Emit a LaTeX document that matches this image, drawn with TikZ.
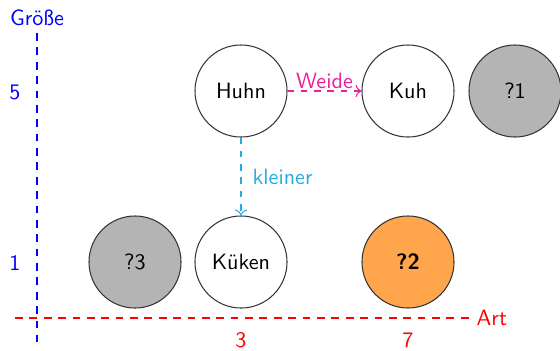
\documentclass[tikz,border=0pt]{standalone}
\usetikzlibrary{arrows.meta}
\definecolor{pinkw}{RGB}{236,30,150}
\definecolor{cyank}{RGB}{40,170,226}
\definecolor{orangeq}{RGB}{255,165,75}
\definecolor{grayq}{RGB}{180,180,180}
\begin{document}
\begin{tikzpicture}[x=0.452pt,y=-0.452pt,font=\sffamily,line width=0.47pt,
  animal/.style={circle,draw=black!80,minimum size=41.6pt,inner sep=0pt},
  unknown/.style={animal,fill=grayq},
  axislabel/.style={inner sep=1pt},
  axisline/.style={dash pattern=on 3.5pt off 3pt}]
\useasboundingbox (0,0) rectangle (560,350);
% axes
\coordinate (vtop) at (37,33);
\coordinate (vbot) at (37,342);
\coordinate (hleft) at (15,318);
\coordinate (hright) at (470,318);
\draw[blue,axisline] (vtop) -- (vbot);
\draw[red,axisline] (hleft) -- (hright);
\node[blue,axislabel] (groesse) at (37,18) {Größe};
\node[red,axislabel,anchor=west] (art) at (474,318) {Art};
\node[blue,axislabel] (y5) at (15,92) {5};
\node[blue,axislabel] (y1) at (15,263) {1};
\node[red,axislabel] (x3) at (241,340) {3};
\node[red,axislabel] (x7) at (408,340) {7};
% nodes
\node[animal] (huhn) at (241,91) {Huhn};
\node[animal] (kuh) at (408,91) {Kuh};
\node[unknown] (q1) at (515,91) {?1};
\node[unknown] (q3) at (135,262) {?3};
\node[animal] (kueken) at (241,262) {Küken};
\node[animal,fill=orangeq] (q2) at (408,262) {\bfseries ?2};
% connectors
\draw[pinkw,dashed,->] (huhn) -- node[above,inner sep=2pt,yshift=-1pt] {Weide} (kuh);
\draw[cyank,dashed,->] (huhn) -- node[right,inner sep=5pt] {kleiner} (kueken);
\end{tikzpicture}
\end{document}
